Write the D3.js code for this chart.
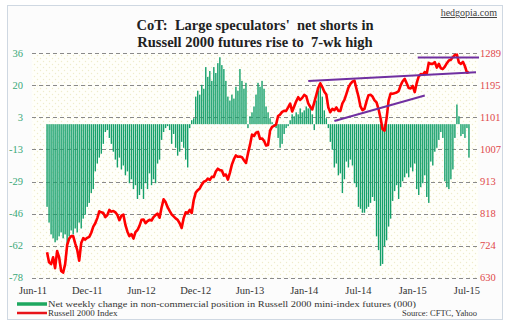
<!DOCTYPE html>
<html><head><meta charset="utf-8">
<script src="https://cdn.jsdelivr.net/npm/d3@7/dist/d3.min.js"></script>
<style>html,body{margin:0;padding:0;background:#fff;}svg{display:block;}</style>
</head><body>
<script>
// ---- data ----
const netChange = [
-42,-50,-56,-58,-60,-59,-57,-55,-58,-56,-62,-57,-54,-56,-53,-55,-50,-53,-48,-46,
-42,-40,-35,-33,-24,-20,-17,-15,-10,-4,-3,-7,-10,-14,-18,-22,-17,-23,-21,-26,
-24,-30,-28,-33,-31,-38,-36,-33,-38,-30,-33,-25,-31,-28,-30,-20,-18,-8,-4,-2,
-1,-3,-10,-5,-12,-16,-14,-9,-12,-18,-22,-2,2,3,14,17,15,20,18,29,
24,27,22,29,26,31,34,30,28,22,14,12,15,13,19,17,28,22,18,21,
-2,4,6,9,15,21,19,22,18,9,6,3,1,-1,-2,-7,-12,-10,-5,-2,
-1,2,5,4,6,5,8,6,7,9,8,9,5,-3,12,17,20,14,7,3,
-2,-9,-13,-22,-20,-26,-25,-35,-28,-19,-22,-18,-21,-30,-32,-42,-43,-45,-45,-43,
-42,-40,-37,-39,-57,-64,-72,-71,-62,-59,-52,-48,-39,-34,-31,-38,-32,-29,-27,-25,
-27,-22,-24,-20,-33,-36,-32,-30,-26,-37,-40,-19,-21,-14,-12,-8,-4,-7,-29,-32,
-33,-28,-23,-7,10,4,-6,-5,-7,-2,-17];
const russell2000 = [
705,675,670,690,658,708,690,650,645,670,726,745,752,752,731,712,680,732,746,742,
747,750,762,780,790,805,825,822,820,808,814,829,824,826,822,814,799,812,815,785,
765,752,758,745,764,770,782,800,801,790,796,800,798,808,814,818,806,836,860,852,
837,826,816,810,804,800,790,776,805,822,820,829,820,858,880,887,892,903,912,914,
921,917,926,926,942,950,946,945,930,933,918,938,962,978,989,985,986,984,975,967,
995,1020,1050,1046,1056,1058,1038,1039,1032,1018,1020,1062,1073,1076,1080,1105,1109,1117,1120,1120,
1130,1141,1118,1133,1148,1160,1152,1158,1167,1163,1142,1132,1124,1145,1166,1188,1201,1190,1176,1168,
1130,1116,1126,1122,1130,1120,1120,1142,1152,1170,1188,1199,1206,1209,1185,1162,1133,1122,1126,1148,
1166,1167,1162,1151,1145,1125,1098,1066,1062,1098,1150,1171,1170,1172,1174,1178,1195,1207,1214,1201,
1187,1186,1193,1175,1202,1221,1228,1226,1234,1230,1261,1258,1258,1263,1247,1258,1245,1243,1250,1260,
1268,1270,1278,1284,1285,1262,1258,1264,1251,1232,1234];
const leftTickLabels = ["-78","-62","-46","-29","-13","3","20","36"];
const rightTickLabels = ["630","724","818","913","1007","1101","1195","1289"];
const xTickLabels = ["Jun-11","Dec-11","Jun-12","Dec-12","Jun-13","Jan-14","Jul-14","Jan-15","Jul-15"];
// trend lines: [weekIndex, index level]
const trendLines = [
  [[130, 1208], [213.5, 1233]],
  [[143, 1090], [188, 1165]],
  [[184.5, 1277], [215, 1277]]
];
const titleLines = ["CoT:  Large speculators'  net shorts in", "Russell 2000 futures rise to  7-wk high"];
const legendLabels = ["Net weekly change in non-commercial position in Russell 2000 mini-index futures (000)", "Russell 2000 Index"];

// ---- layout ----
const W = 511, H = 333;
const P = {l: 32, r: 478, t: 53.3, b: 277.7};
const firstTick = -7, tickEvery = 27;
const serif = "'Liberation Serif','DejaVu Serif',serif";

const svg = d3.select("body").append("svg").attr("width", W).attr("height", H);
const defs = svg.append("defs");
const pat = defs.append("pattern").attr("id","dots").attr("patternUnits","userSpaceOnUse")
  .attr("width",6).attr("height",6);
pat.append("rect").attr("width",6).attr("height",6).attr("fill","#fffffa");
pat.append("circle").attr("cx",1.5).attr("cy",1.5).attr("r",0.7).attr("fill","#efeccb");
pat.append("circle").attr("cx",4.5).attr("cy",4.5).attr("r",0.7).attr("fill","#efeccb");

svg.append("rect").attr("x",0).attr("y",0).attr("width",W).attr("height",H).attr("fill","#ffffff");
svg.append("rect").attr("x",7.5).attr("y",5.5).attr("width",495).attr("height",314)
  .attr("fill","#fcfcfc").attr("stroke","#cfd8e2").attr("stroke-width",1);
svg.append("rect").attr("x",P.l).attr("y",P.t).attr("width",P.r-P.l).attr("height",P.b-P.t)
  .attr("fill","url(#dots)");

// scales
const x = d3.scaleLinear().domain([-7.5, 214.5]).range([P.l, P.r]);
const yL = d3.scaleLinear().domain([-78, 36]).range([P.b, P.t]);
const yR = d3.scaleLinear().domain([630, 1289]).range([P.b, P.t]);
const gridL = d3.scalePoint().domain(leftTickLabels).range([P.b, P.t]);
const gridR = d3.scalePoint().domain(rightTickLabels).range([P.b, P.t]);

// gridlines
svg.append("g").selectAll("line").data(leftTickLabels).join("line")
  .attr("x1",P.l).attr("x2",P.r)
  .attr("y1",d=>Math.round(gridL(d))+0.5).attr("y2",d=>Math.round(gridL(d))+0.5)
  .attr("stroke","#8a8a8a").attr("stroke-width",1).attr("stroke-dasharray","4,3");

// bars
const bw = 1.4;
svg.append("g").selectAll("rect").data(netChange).join("rect")
  .attr("x",(d,i)=>x(i)-bw/2).attr("width",bw)
  .attr("y",d=>Math.min(yL(d),yL(0))).attr("height",d=>Math.abs(yL(d)-yL(0)))
  .attr("fill","#15a06b");

// line
svg.append("path").datum(russell2000)
  .attr("d", d3.line().x((d,i)=>x(i)).y(d=>yR(d)))
  .attr("fill","none").attr("stroke","#ff0000").attr("stroke-width",2.6).attr("stroke-linejoin","round");

// trend lines
svg.append("g").selectAll("line").data(trendLines).join("line")
  .attr("x1",d=>x(d[0][0])).attr("y1",d=>yR(d[0][1]))
  .attr("x2",d=>x(d[1][0])).attr("y2",d=>yR(d[1][1]))
  .attr("stroke","#7030a0").attr("stroke-width",2);

// axes labels
svg.append("g").selectAll("text").data(leftTickLabels).join("text")
  .attr("x",23).attr("y",d=>gridL(d)+3.5).attr("text-anchor","end")
  .attr("font-family",serif).attr("font-size",10.5).attr("fill","#3aa878").text(d=>d);
svg.append("g").selectAll("text").data(rightTickLabels).join("text")
  .attr("x",480).attr("y",d=>gridR(d)+3.5).attr("text-anchor","start")
  .attr("font-family",serif).attr("font-size",10.5).attr("fill","#e0474a").text(d=>d);
svg.append("g").selectAll("text").data(xTickLabels).join("text")
  .attr("x",(d,k)=>x(firstTick + k*tickEvery)).attr("y",294).attr("text-anchor","middle")
  .attr("font-family",serif).attr("font-size",10.5).attr("fill","#333").text(d=>d);

// title
svg.append("g").selectAll("text").data(titleLines).join("text")
  .attr("x",255).attr("y",(d,k)=>30+k*16.5).attr("text-anchor","middle")
  .attr("font-family",serif).attr("font-weight","bold").attr("font-size",14.5)
  .attr("fill","#222").attr("xml:space","preserve").style("white-space","pre").text(d=>d);

svg.append("text").attr("x",497).attr("y",16).attr("text-anchor","end")
  .attr("font-family",serif).attr("font-size",10).attr("fill","#444")
  .attr("text-decoration","underline").text("hedgopia.com");

// legend
const legColors = ["#1ea860","#e8141a"];
const lg = svg.append("g");
legendLabels.forEach((t,k)=>{
  const yy = 304 + k*9;
  lg.append("line").attr("x1",17).attr("x2",47).attr("y1",yy).attr("y2",yy)
    .attr("stroke",legColors[k]).attr("stroke-width",k===0?3.5:2.5);
  const tx = lg.append("text").attr("x",48).attr("y",yy+3).attr("font-family",serif)
    .attr("font-size",9).attr("fill","#333").text(t);
  if (k===0) tx.attr("textLength",368).attr("lengthAdjust","spacingAndGlyphs");
});
svg.append("text").attr("x",477).attr("y",316).attr("text-anchor","end")
  .attr("font-family",serif).attr("font-size",8.5).attr("fill","#333").text("Source: CFTC, Yahoo");
</script>
</body></html>
